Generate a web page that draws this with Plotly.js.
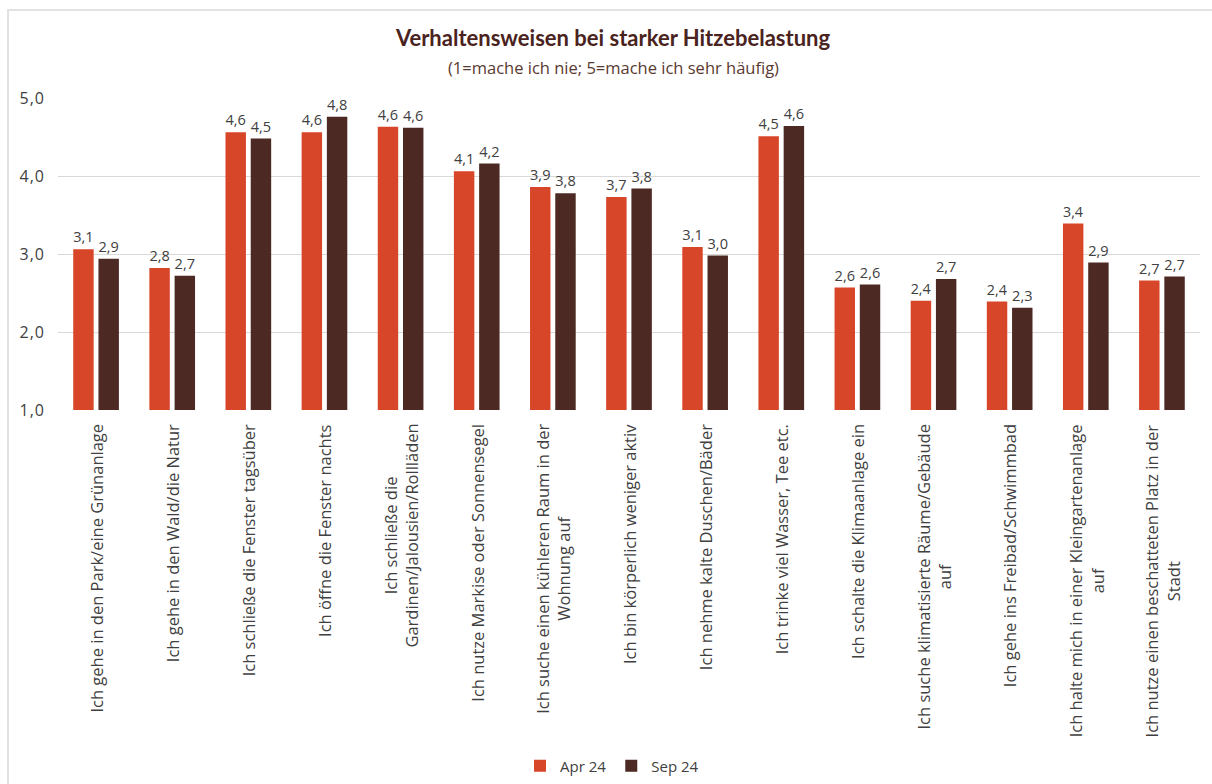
<!DOCTYPE html>
<html>
<head>
<meta charset="utf-8">
<script src="https://cdn.plot.ly/plotly-3.0.1.min.js"></script>
<style>
  html, body { margin: 0; padding: 0; background: #ffffff; overflow: hidden; width: 1212px; height: 784px; }
  #chart { position: absolute; left: 0; top: 0; width: 1212px; height: 800px; }
  #frame { position: absolute; left: 7px; top: 9px; width: 1215px; height: 790px;
           border-top: 2px solid #e2e2e2; border-left: 2px solid #e2e2e2; pointer-events: none; }
  #chart .ytick text { letter-spacing: 1px; }
</style>
</head>
<body>
<div id="chart"></div>
<div id="frame"></div>
<script>
const categories = [
  "Ich gehe in den Park/eine Grünanlage",
  "Ich gehe in den Wald/die Natur",
  "Ich schließe die Fenster tagsüber",
  "Ich öffne die Fenster nachts",
  "Ich schließe die<br>Gardinen/Jalousien/Rollläden",
  "Ich nutze Markise oder Sonnensegel",
  "Ich suche einen kühleren Raum in der<br>Wohnung auf",
  "Ich bin körperlich weniger aktiv",
  "Ich nehme kalte Duschen/Bäder",
  "Ich trinke viel Wasser, Tee etc.",
  "Ich schalte die Klimaanlage ein",
  "Ich suche klimatisierte Räume/Gebäude<br>auf",
  "Ich gehe ins Freibad/Schwimmbad",
  "Ich halte mich in einer Kleingartenanlage<br>auf",
  "Ich nutze einen beschatteten Platz in der<br>Stadt"
];
const apr24 = [3.06, 2.82, 4.56, 4.56, 4.63, 4.06, 3.86, 3.73, 3.09, 4.51, 2.57, 2.40, 2.39, 3.39, 2.66];
const sep24 = [2.94, 2.72, 4.48, 4.76, 4.62, 4.16, 3.78, 3.84, 2.98, 4.64, 2.61, 2.68, 2.31, 2.89, 2.71];
const seriesNames = ["Apr 24", "Sep 24"];
const yTicks = [1, 2, 3, 4, 5];

const FONT = "'Open Sans', 'Noto Sans', sans-serif";
const TITLE_FONT = "Lato, 'Open Sans', sans-serif";
const labelFont = {family: FONT, size: 15, color: "#404040"};

const traces = [
  {type: "bar", name: seriesNames[0], x: categories, y: apr24,
   marker: {color: "#D8462A"}, texttemplate: "%{y:.1f}", textposition: "outside",
   textfont: labelFont, cliponaxis: false, hoverinfo: "x+y"},
  {type: "bar", name: seriesNames[1], x: categories, y: sep24,
   marker: {color: "#4C2A23"}, texttemplate: "%{y:.1f}", textposition: "outside",
   textfont: labelFont, cliponaxis: false, hoverinfo: "x+y"}
];

const H = 800;
const plotH = 312;

// category labels drawn as rotated, centre-aligned annotations below the axis
const catLabels = categories.map(c => ({
  text: c, x: c, xref: "x", yref: "paper", y: -13 / plotH,
  xanchor: "center", yanchor: "top", textangle: -90, align: "center",
  showarrow: false, borderpad: 0,
  font: {family: FONT, size: 16.5, color: "#404040"}
}));

const layout = {
  width: 1212, height: H,
  separators: ",.",
  paper_bgcolor: "rgba(0,0,0,0)",
  plot_bgcolor: "#ffffff",
  margin: {l: 58, r: 12, t: 98, b: H - 410, pad: 0},
  font: {family: FONT, color: "#404040"},
  barmode: "group",
  bargap: 0.337,
  bargroupgap: 0.19,
  title: {
    text: "<b>Verhaltensweisen bei starker Hitzebelastung</b>",
    font: {family: TITLE_FONT, size: 22, color: "#4A2320"},
    xref: "container", x: 613 / 1212, xanchor: "center",
    yref: "container", y: 1 - 38 / H, yanchor: "middle"
  },
  annotations: [{
    text: "(1=mache ich nie; 5=mache ich sehr häufig)",
    font: {family: FONT, size: 16.5, color: "#5A3A30"},
    xref: "paper", yref: "paper", x: (613 - 58) / 1142, y: (410 - 68) / plotH,
    xanchor: "center", yanchor: "middle", showarrow: false
  }].concat(catLabels),
  xaxis: {
    type: "category",
    showticklabels: false,
    showline: false, ticks: "", automargin: false,
    showgrid: false
  },
  yaxis: {
    range: [1, 5],
    tickvals: yTicks,
    tickformat: ".1f",
    tickfont: {family: FONT, size: 16, color: "#404040"},
    ticklabelstandoff: 12,
    showgrid: true, gridcolor: "#d9d9d9", gridwidth: 1,
    zeroline: false, showline: false, ticks: "", ticklen: 0,
    automargin: false
  },
  showlegend: true,
  legend: {
    orientation: "h",
    x: (612 - 58) / 1142, xanchor: "center",
    y: (410 - 766) / plotH, yanchor: "middle",
    font: {family: FONT, size: 15, color: "#404040"},
    itemwidth: 30, traceorder: "normal"
  }
};

Plotly.newPlot("chart", traces, layout, {displayModeBar: false, staticPlot: true});
</script>
</body>
</html>
